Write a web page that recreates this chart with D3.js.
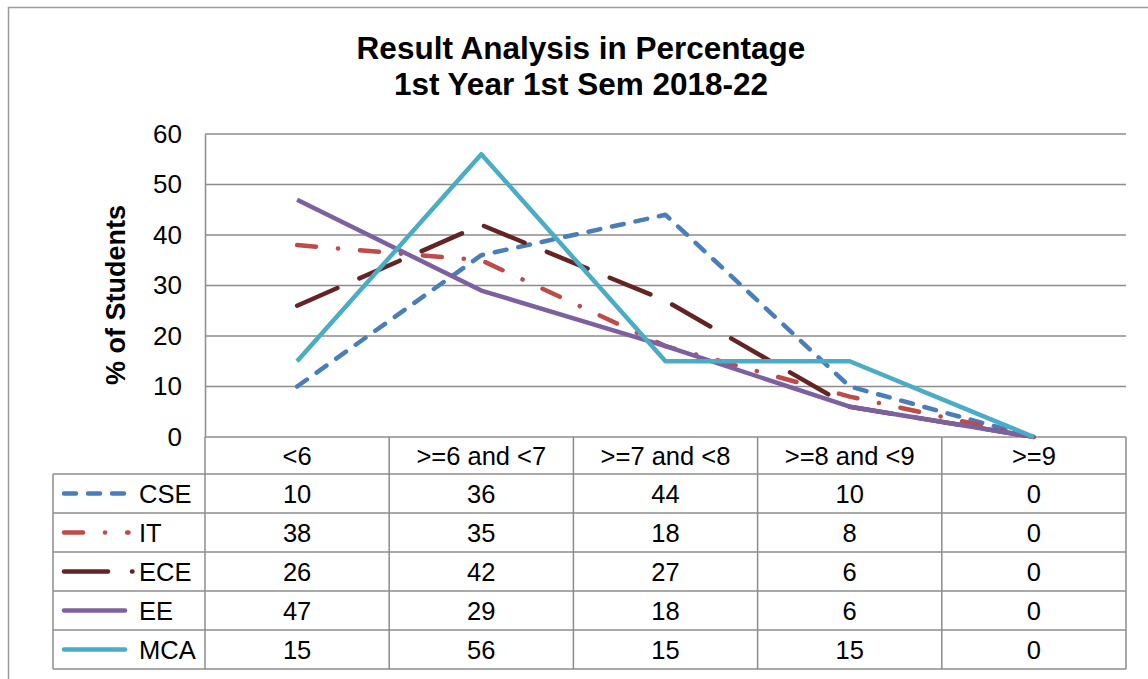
<!DOCTYPE html>
<html><head><meta charset="utf-8">
<script src="https://cdn.jsdelivr.net/npm/d3@7"></script>
<style>body{margin:0;background:#fff}svg{display:block;font-family:"Liberation Sans",Arial,sans-serif}</style>
</head><body>
<svg id="c" width="1148" height="679"></svg>
<script>
const categories = ["<6", ">=6 and <7", ">=7 and <8", ">=8 and <9", ">=9"];
const seriesNames = ["CSE", "IT", "ECE", "EE", "MCA"];
const cseValues = [10, 36, 44, 10, 0];
const itValues = [38, 35, 18, 8, 0];
const eceValues = [26, 42, 27, 6, 0];
const eeValues = [47, 29, 18, 6, 0];
const mcaValues = [15, 56, 15, 15, 0];
const yTicks = [0, 10, 20, 30, 40, 50, 60];
const titleLines = ["Result Analysis in Percentage", "1st Year 1st Sem 2018-22"];
const yLabel = "% of Students";

const seriesValues = [cseValues, itValues, eceValues, eeValues, mcaValues];
const colors = ["#4a7ebb", "#be4b48", "#632523", "#7d60a0", "#4bacc6"];
const dashes = ["12,12", "19,22,0.1,22", "44,24", null, null];
const legendEnd = [125, 128.5, 132.5, 125, 125];

const svg = d3.select("#c");
const L = 205, R = 1126, T = 134, B = 437;
const headH = 37, rowH = 39, legL = 53;
const grid = "#8c8c8c";
const fs = 25.5;

// outer border
svg.append("rect").attr("x", 8.5).attr("y", 7.5).attr("width", 1200).attr("height", 700)
  .attr("fill", "none").attr("stroke", "#9a9a9a").attr("stroke-width", 1.5);

const x = d3.scaleBand().domain(categories).range([L, R]);
const y = d3.scaleLinear().domain([0, 60]).range([B, T]);

// gridlines
svg.append("g").selectAll("line").data(yTicks).join("line")
  .attr("x1", L).attr("x2", R).attr("y1", d => y(d)).attr("y2", d => y(d))
  .attr("stroke", grid).attr("stroke-width", 1.5);

// y axis
const yAxis = d3.axisLeft(y).tickValues(yTicks).tickSize(0).tickPadding(23);
const ga = svg.append("g").attr("transform", `translate(${L},0)`).call(yAxis);
ga.select(".domain").attr("stroke", grid).attr("stroke-width", 1.5);
ga.selectAll("text").attr("font-size", 26).attr("fill", "#000")
  .attr("font-family", "'Liberation Sans',Arial,sans-serif");

// title
svg.append("g").selectAll("text").data(titleLines).join("text")
  .attr("x", 581).attr("y", (d, i) => 59 + i * 36).attr("text-anchor", "middle")
  .attr("font-size", 31.5).attr("font-weight", "bold").text(d => d);

// y label
svg.append("text").attr("transform", "translate(125,295) rotate(-90)")
  .attr("text-anchor", "middle").attr("font-size", 27).attr("font-weight", "bold").text(yLabel);

// table
const tb = svg.append("g").attr("stroke", grid).attr("stroke-width", 1.5);
const nRows = seriesNames.length;
for (let i = 0; i <= nRows; i++) {
  const yy = B + headH + i * rowH;
  tb.append("line").attr("x1", legL).attr("x2", R).attr("y1", yy).attr("y2", yy);
}
const tableBottom = B + headH + nRows * rowH;
const vx = categories.map(c => x(c)).concat([R]);
vx.forEach(v => tb.append("line").attr("x1", v).attr("x2", v).attr("y1", B).attr("y2", tableBottom));
tb.append("line").attr("x1", legL).attr("x2", legL).attr("y1", B + headH).attr("y2", tableBottom);

// header text
svg.append("g").selectAll("text").data(categories).join("text")
  .attr("x", d => x(d) + x.bandwidth() / 2).attr("y", B + 28).attr("text-anchor", "middle")
  .attr("font-size", fs).text(d => d);

// rows
seriesNames.forEach((name, si) => {
  const ry = B + headH + si * rowH;
  const g = svg.append("g");
  g.append("line").attr("x1", 64).attr("x2", legendEnd[si]).attr("y1", ry + rowH / 2).attr("y2", ry + rowH / 2)
    .attr("stroke", colors[si]).attr("stroke-width", 4.5).attr("stroke-linecap", "round")
    .attr("stroke-dasharray", dashes[si]);
  g.append("text").attr("x", 139).attr("y", ry + 29).attr("font-size", fs).text(name);
  g.selectAll("text.v").data(seriesValues[si]).join("text").attr("class", "v")
    .attr("x", (d, i) => x(categories[i]) + x.bandwidth() / 2).attr("y", ry + 29)
    .attr("text-anchor", "middle").attr("font-size", fs).text(d => d);
});

// lines
const line = d3.line().x((d, i) => x(categories[i]) + x.bandwidth() / 2).y(d => y(d));
seriesValues.forEach((vals, si) => {
  svg.append("path").datum(vals).attr("d", line).attr("fill", "none")
    .attr("stroke", colors[si]).attr("stroke-width", 4.5)
    .attr("stroke-linecap", dashes[si] ? "round" : "butt").attr("stroke-linejoin", "round")
    .attr("stroke-dasharray", dashes[si]);
});
</script>
</body></html>
